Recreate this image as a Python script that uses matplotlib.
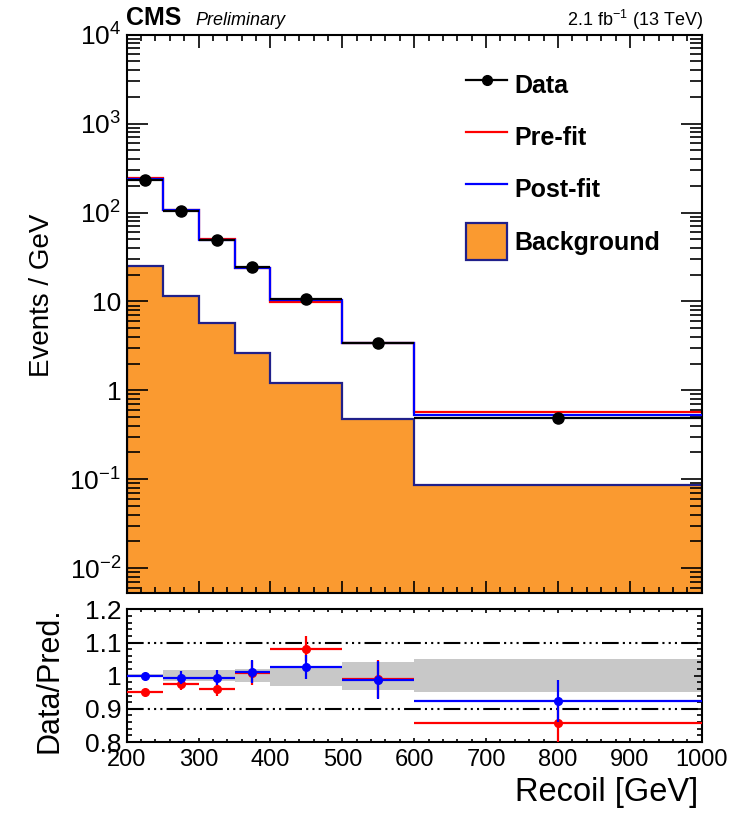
import numpy as np
import matplotlib
matplotlib.use("Agg")
import matplotlib.pyplot as plt
from matplotlib.lines import Line2D
from matplotlib.patches import Patch
from matplotlib.ticker import FixedLocator, FixedFormatter, MultipleLocator, LogLocator, NullFormatter

plt.rcParams['font.family'] = ['Liberation Sans', 'DejaVu Sans']
plt.rcParams['mathtext.fontset'] = 'custom'
plt.rcParams['mathtext.rm'] = 'Liberation Sans'
plt.rcParams['mathtext.it'] = 'Liberation Sans:italic'
plt.rcParams['mathtext.bf'] = 'Liberation Sans:bold'

# Recoil binning [GeV]
bin_edges = [200, 250, 300, 350, 400, 500, 600, 1000]

# Events / GeV per bin
data = [235.0, 105.0, 48.9, 24.1, 10.6, 3.37, 0.49]
data_rel_err = [0.010, 0.020, 0.022, 0.035, 0.035, 0.058, 0.068]
prefit = [247.0, 107.7, 51.0, 23.9, 9.8, 3.40, 0.572]
postfit = [235.5, 105.6, 49.2, 23.8, 10.32, 3.41, 0.531]
background = [25.1, 11.6, 5.66, 2.64, 1.20, 0.472, 0.0863]

# relative post-fit uncertainty (grey band in the ratio)
postfit_unc = [0.005, 0.016, 0.016, 0.020, 0.030, 0.042, 0.049]

main_ytick_vals = [1e-2, 1e-1, 1, 10, 1e2, 1e3, 1e4]
main_ytick_labels = [r'$10^{-2}$', r'$10^{-1}$', '1', '10', r'$10^{2}$', r'$10^{3}$', r'$10^{4}$']
ratio_ytick_vals = [0.8, 0.9, 1.0, 1.1, 1.2]
ratio_ytick_labels = ['0.8', '0.9', '1', '1.1', '1.2']
xtick_vals = [200, 300, 400, 500, 600, 700, 800, 900, 1000]

edges = np.array(bin_edges, dtype=float)
centers = 0.5 * (edges[:-1] + edges[1:])
halfw = 0.5 * np.diff(edges)
data_a = np.array(data)
rel = np.array(data_rel_err)
ratio_pre = data_a / np.array(prefit)
ratio_post = data_a / np.array(postfit)
unc = np.array(postfit_unc)

ORANGE = '#fa9a30'
NAVY = '#20208a'

fig = plt.figure(figsize=(7.43, 8.13), dpi=100)
ax = fig.add_axes([0.1705, 0.2710, 0.774, 0.6863])
rax = fig.add_axes([0.1705, 0.0873, 0.774, 0.1632])

# ---------- main panel ----------
ax.set_yscale('log')
ax.stairs(background, edges, baseline=1e-4, fill=True, color=ORANGE, zorder=1)
ax.stairs(background, edges, baseline=1e-4, color=NAVY, lw=1.6, zorder=1.5)
ax.stairs(prefit, edges, baseline=None, color='#ff0000', lw=1.6, zorder=2)
ax.stairs(postfit, edges, baseline=None, color='#0000ff', lw=1.6, zorder=3)
ax.errorbar(centers, data_a, xerr=halfw, yerr=data_a * rel, fmt='o', color='black',
            ms=8, lw=1.6, capsize=0, zorder=4)

ax.set_xlim(200, 1000)
ax.set_ylim(5.3e-3, 1e4)
ax.yaxis.set_major_locator(FixedLocator(main_ytick_vals))
ax.yaxis.set_major_formatter(FixedFormatter(main_ytick_labels))
ax.yaxis.set_minor_locator(LogLocator(base=10, subs=np.arange(2, 10), numticks=20))
ax.yaxis.set_minor_formatter(NullFormatter())
ax.xaxis.set_major_locator(MultipleLocator(100))
ax.xaxis.set_minor_locator(MultipleLocator(20))
ax.tick_params(axis='both', which='both', direction='in', top=True, right=True,
               width=1.2, labelbottom=False)
ax.tick_params(axis='y', which='major', length=15, labelsize=19, pad=4)
ax.tick_params(axis='y', which='minor', length=9)
ax.tick_params(axis='x', which='major', length=9)
ax.tick_params(axis='x', which='minor', length=4.5)
for s in ax.spines.values():
    s.set_linewidth(1.5)

handles = [
    Line2D([], [], color='black', marker='o', ms=7, lw=1.6),
    Line2D([], [], color='#ff0000', lw=1.6),
    Line2D([], [], color='#0000ff', lw=1.6),
    Patch(facecolor=ORANGE, edgecolor=NAVY, lw=1.6),
]
leg = ax.legend(handles, ['Data', 'Pre-fit', 'Post-fit', 'Background'],
                loc='upper left', bbox_to_anchor=(0.59, 0.943), frameon=False,
                prop={'weight': 'bold', 'size': 18}, handlelength=1.65,
                handleheight=1.91, labelspacing=0.6, handletextpad=0.3,
                borderpad=0, borderaxespad=0)

# ---------- ratio panel ----------
rax.stairs(1 + unc, edges, baseline=1 - unc, fill=True, color='#c8c8c8', lw=0, zorder=1)
for yv in (0.9, 1.1):
    rax.axhline(yv, color='black', lw=1.5,
                linestyle=(0, (8, 2, 1, 2, 1, 2, 1, 2)), zorder=2)
rax.errorbar(centers, ratio_pre, xerr=halfw, yerr=ratio_pre * rel, fmt='o',
             color='#ff0000', ms=5.5, lw=1.6, capsize=0, zorder=3)
rax.errorbar(centers, ratio_post, xerr=halfw, yerr=ratio_post * rel, fmt='o',
             color='#0000ff', ms=5.5, lw=1.6, capsize=0, zorder=4)

rax.set_xlim(200, 1000)
rax.set_ylim(0.8, 1.2)
rax.yaxis.set_major_locator(FixedLocator(ratio_ytick_vals))
rax.yaxis.set_major_formatter(FixedFormatter(ratio_ytick_labels))
rax.yaxis.set_minor_locator(MultipleLocator(0.02))
rax.xaxis.set_major_locator(FixedLocator(xtick_vals))
rax.xaxis.set_minor_locator(MultipleLocator(20))
rax.tick_params(axis='both', which='both', direction='in', top=True, right=True, width=1.2)
rax.tick_params(axis='y', which='major', length=6, labelsize=19, pad=4)
rax.tick_params(axis='y', which='minor', length=3.5)
rax.tick_params(axis='x', which='major', length=3, labelsize=17, pad=5)
rax.tick_params(axis='x', which='minor', length=2)
for s in rax.spines.values():
    s.set_linewidth(1.5)

# ---------- labels ----------
fig.text(42 / 743, 1 - 295 / 813, 'Events / GeV', rotation=90, ha='center', va='center', size=20)
fig.text(50 / 743, 1 - 680 / 813, 'Data/Pred.', rotation=90, ha='center', va='center', size=22)
fig.text(698 / 743, 1 - 792 / 813, 'Recoil [GeV]', ha='right', va='center', size=23.5)

fig.text(126 / 743, 1 - 25 / 813, 'CMS', ha='left', va='baseline', size=18, weight='bold')
fig.text(195 / 743, 1 - 25 / 813, 'Preliminary', ha='left', va='baseline', size=13, style='italic')
fig.text(703 / 743, 1 - 26 / 813, r'2.1 fb$^{-1}$ (13 TeV)', ha='right', va='baseline', size=13)

fig.savefig('out.png', dpi=100)
